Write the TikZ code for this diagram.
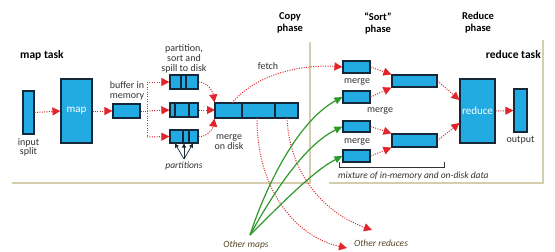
\documentclass[tikz,border=0pt]{standalone}
\usepackage{fontspec}
\setmainfont{Carlito}
\usetikzlibrary{arrows.meta,calc}
\definecolor{boxfill}{HTML}{22AAE2}
\definecolor{boxline}{HTML}{14283A}
\definecolor{redarr}{HTML}{E0262C}
\definecolor{greenarr}{HTML}{2F9A2A}
\definecolor{shadowc}{HTML}{D5CEAE}
\definecolor{txt}{HTML}{333333}
\definecolor{brownt}{HTML}{5A4828}
\tikzset{
  box/.style={draw=boxline, fill=boxfill, line width=1.2pt, inner sep=0pt},
  divider/.style={draw=boxline, line width=1.1pt},
  lbl/.style={text=txt, font=\fontsize{10}{9.8}\selectfont, align=center, inner sep=0pt},
  title/.style={text=black, font=\fontsize{11.5}{12}\selectfont\bfseries, align=center, inner sep=0pt},
  phase/.style={text=black, font=\fontsize{10.5}{12}\selectfont\bfseries, align=center, inner sep=0pt},
  ital/.style={text=txt, font=\fontsize{9.5}{9.5}\selectfont\itshape, inner sep=0pt},
  redflow/.style={draw=redarr, line width=1pt, dash pattern=on 1pt off 1.4pt,
     -{Triangle[length=8pt,width=8pt,fill=redarr]}, shorten >=0pt},
  greenflow/.style={draw=greenarr, line width=1.2pt,
     -{Triangle[length=8pt,width=7pt,fill=greenarr]}},
  blackarr/.style={draw=boxline, line width=0.7pt, -{Triangle[length=4pt,width=4pt]}},
  panelshadow/.style={draw=shadowc, line width=2pt}
}
\begin{document}
\begin{tikzpicture}[x=1pt,y=-1pt]
\useasboundingbox[fill=white] (0,0) rectangle (555,252);

% panels
\draw[panelshadow] (12,183) -- (310,183) -- (310,42);
\draw[panelshadow] (329,183) -- (543,183) -- (543,40);

% titles
\node[title, anchor=west] (maptask) at (20,55) {map task};
\node[title, anchor=east] (redtask) at (541,55) {reduce task};
\node[phase] (copyph) at (290,23) {Copy\\phase};
\node[phase] (sortph) at (378,23) {“Sort”\\phase};
\node[phase] (redph) at (478,23) {Reduce\\phase};

% map task content
\node[box, minimum width=11pt, minimum height=43pt] (split) at (28.5,112.5) {};
\node[lbl, anchor=north] (splitl) at (28.5,138) {input\\split};
\node[box, minimum width=31pt, minimum height=64pt, text=white,
      font=\fontsize{11}{11}\selectfont] (map) at (76.5,111) {map};
\node[box, minimum width=27pt, minimum height=14pt] (buf) at (126.5,111) {};
\node[lbl] (bufl) at (127,91) {buffer in\\memory};

\node[box, minimum width=28pt, minimum height=14pt] (p1) at (184,82) {};
\node[box, minimum width=28pt, minimum height=14pt] (p2) at (184,110) {};
\node[box, minimum width=28pt, minimum height=13pt] (p3) at (184,136.5) {};
\draw[divider] (181,75) -- (181,89) (186,75) -- (186,89);
\draw[divider] (175,103) -- (175,117) (189,103) -- (189,117);
\draw[divider] (183,130) -- (183,143) (189,130) -- (189,143);
\node[lbl] (pl) at (184,59) {partition,\\sort and\\spill to disk};

\node[ital] (parts) at (184,166) {partitions};
\coordinate (pt) at (184,159);
\draw[blackarr] (pt) -- (175,143.5);
\draw[blackarr] (pt) -- (184,143.5);
\draw[blackarr] (pt) -- (193,143.5);

\node[box, minimum width=83pt, minimum height=15pt] (mg) at (256.5,110.5) {};
\draw[divider] (242,103) -- (242,118) (275,103) -- (275,118);
\node[lbl] (mgl) at (229,142) {merge\\on disk};
\node[lbl] (fetchl) at (268,66) {fetch};

% map arrows
\draw[redflow] (split.east) -- (map.west);
\draw[redflow] (map.east) -- (buf.west);
\coordinate (fork) at (147,111);
\draw[redarr, line width=1pt, dash pattern=on 1pt off 1.4pt] (buf.east) -- (fork) (147,82) -- (147,137);
\draw[redflow] (147,82) -- (p1.west);
\draw[redflow] (fork) -- (p2.west);
\draw[redflow] (147,137) -- (p3.west);

\draw[redflow] (p1.east) .. controls (208,82) and (213,92) .. (mg.north west);
\draw[redflow] (p2.east) -- (215,110);
\draw[redflow] (p3.east) .. controls (208,137) and (213,128) .. (mg.south west);

% reduce task content
\node[box, minimum width=27pt, minimum height=12pt] (b1) at (356.5,67) {};
\node[box, minimum width=27pt, minimum height=12pt] (b2) at (356.5,97) {};
\node[box, minimum width=27pt, minimum height=11pt] (b3) at (356.5,126.5) {};
\node[box, minimum width=27pt, minimum height=12pt] (b4) at (356.5,156) {};
\node[lbl] (m1) at (357,82) {merge};
\node[lbl] (m2) at (357,142) {merge};
\node[box, minimum width=45pt, minimum height=12pt] (ba) at (414.5,81) {};
\node[box, minimum width=45pt, minimum height=13pt] (bb) at (414.5,140.5) {};
\node[lbl] (m3) at (380,111) {merge};
\node[box, minimum width=35pt, minimum height=64pt, text=white,
      font=\fontsize{11}{11}\selectfont] (red) at (477.5,111) {reduce};
\node[box, minimum width=13pt, minimum height=43pt] (out) at (520.5,110.5) {};
\node[lbl, anchor=north] (outl) at (520.5,136) {output};

\draw[redflow] (b1.east) -- (ba.west|-ba.north);
\draw[redflow] (b2.east) -- (ba.south west);
\draw[redflow] (b3.east) -- (bb.north west);
\draw[redflow] (b4.east) -- (bb.south west);
\draw[redflow] (ba.east) -- ($(red.west)+(0,-11)$);
\draw[redflow] (bb.east) -- ($(red.west)+(0,12)$);
\draw[redflow] (red.east) -- (out.west);

% bracket
\draw[txt, line width=0.6pt] (339,162) -- (339,167) -- (444,167) -- (444,162);
\node[ital, anchor=west] (mix) at (338,176) {mixture of in-memory and on-disk data};

% fetch and other reduces
\draw[redflow] (232,103) .. controls (255,75) and (300,64) .. (b1.west);
\node[ital, text=brownt] (oreds) at (381,243) {Other reduces};
\coordinate (orA) at (347,248);
\coordinate (orB) at (372,230);
\draw[redflow] (257,118) .. controls (257,195) and (300,238) .. (orA);
\draw[redflow] (287,118) .. controls (290,180) and (330,215) .. (orB);

% other maps
\node[ital, text=brownt] (omaps) at (246,245) {Other maps};
\coordinate (om) at (250,235);
\draw[greenflow] (om) .. controls (268,180) and (300,120) .. (b2.west);
\draw[greenflow] (om) .. controls (275,190) and (305,145) .. (b3.west);
\draw[greenflow] (om) .. controls (285,200) and (315,170) .. (b4.west);
\end{tikzpicture}
\end{document}
